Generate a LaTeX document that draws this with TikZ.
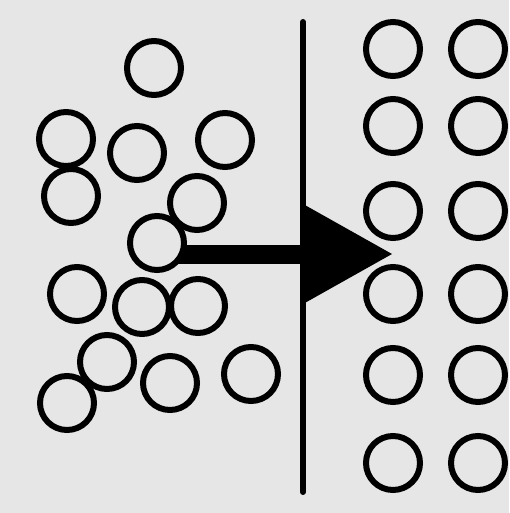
\documentclass[tikz,border=0pt]{standalone}
\usetikzlibrary{arrows.meta}
\definecolor{bg}{RGB}{230,230,230}
\tikzset{
  ball/.style={circle, draw=black, line width=6pt, minimum size=54pt, inner sep=0pt, fill=bg},
  wall/.style={line width=6pt, line cap=round},
  push/.style={line width=19pt, -{Triangle[length=89pt,width=100pt,line width=0pt]}}
}
\begin{document}
\begin{tikzpicture}[x=1pt,y=-1pt]
\fill[bg] (0,0) rectangle (509,513);
\useasboundingbox (0,0) rectangle (509,513);
% wall
\coordinate (wt) at (303,22);
\coordinate (wb) at (303,492);
\draw[wall] (wt) -- (wb);
% arrow
\coordinate (a0) at (157,254);
\coordinate (tip) at (392,254);
\draw[push] (a0) -- (tip);
% left, scattered
\node[ball] (l1) at (154,68) {};
\node[ball] (l2) at (66,139) {};
\node[ball] (l3) at (137,153) {};
\node[ball] (l4) at (225,140) {};
\node[ball] (l5) at (71,196) {};
\node[ball] (l6) at (197,203) {};
\node[ball] (l7) at (157,243) {};
\node[ball] (l8) at (77,294) {};
\node[ball] (l9) at (142,307) {};
\node[ball] (l10) at (198,306) {};
\node[ball] (l11) at (107,362) {};
\node[ball] (l12) at (170,383) {};
\node[ball] (l13) at (251,374) {};
\node[ball] (l14) at (67,403) {};
% right, ordered
\foreach \y [count=\i] in {49,126,211,294,375,463}{
  \node[ball] (ra\i) at (393,\y) {};
  \node[ball] (rb\i) at (478,\y) {};
}
\end{tikzpicture}
\end{document}
